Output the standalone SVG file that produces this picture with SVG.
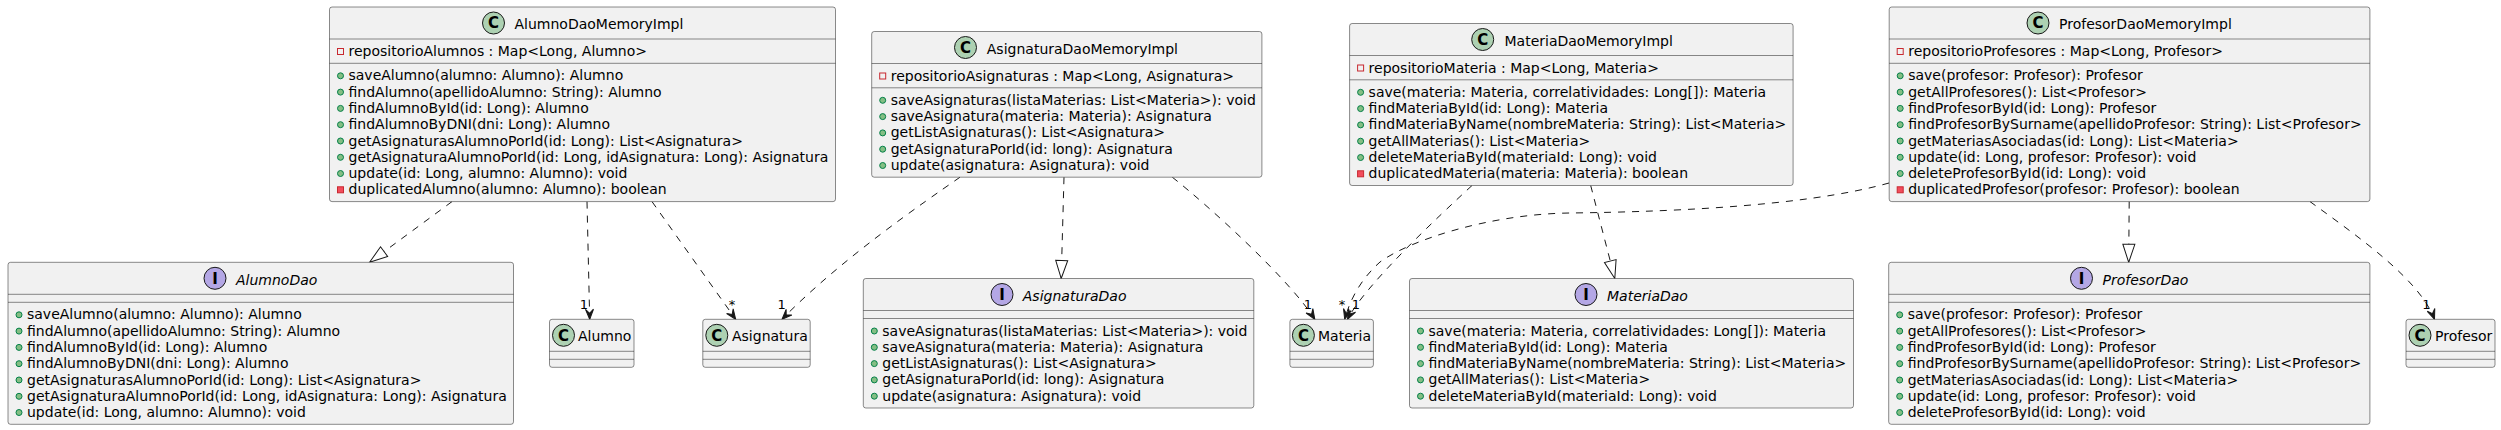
<svg xmlns="http://www.w3.org/2000/svg" width="2501" height="430" viewBox="0 0 2501 430">
<style>
.box{fill:#F1F1F1;stroke:#181818;stroke-width:0.5}
.sep{stroke:#181818;stroke-width:0.5}
.cc{fill:#ADD1B2;stroke:#181818;stroke-width:1}
.ic{fill:#B4A7E5;stroke:#181818;stroke-width:1}
.gl{font-family:"DejaVu Sans",sans-serif;font-size:15px;font-weight:bold;text-anchor:middle;fill:#000}
.t{font-family:"DejaVu Sans",sans-serif;font-size:14px;fill:#000}
.it{font-family:"DejaVu Sans",sans-serif;font-size:14px;font-style:italic;fill:#000}
.m{font-family:"DejaVu Sans",sans-serif;font-size:14px;fill:#000}
.pub{fill:#84BE84;stroke:#038048;stroke-width:1}
.pf{fill:none;stroke:#C82930;stroke-width:1}
.pm{fill:#F24D5C;stroke:#C82930;stroke-width:1}
.e{fill:none;stroke:#181818;stroke-width:1;stroke-dasharray:7,7}
.dep{marker-end:url(#dep)}
.real{marker-end:url(#real)}
.l{font-family:"DejaVu Sans",sans-serif;font-size:13px;text-anchor:middle;fill:#000}
</style>
<defs>
<marker id="dep" markerUnits="userSpaceOnUse" markerWidth="12" markerHeight="10" refX="10" refY="5" orient="auto" overflow="visible"><path d="M10,5 L0,1 L4,5 L0,9 Z" fill="#181818" stroke="#181818" stroke-width="1"/></marker>
<marker id="real" markerUnits="userSpaceOnUse" markerWidth="20" markerHeight="14" refX="18" refY="6" orient="auto" overflow="visible"><path d="M18,6 L0,0 L0,12 Z" fill="#FFFFFF" stroke="#181818" stroke-width="1"/></marker>
</defs>
<rect width="2501" height="430" fill="#FFFFFF"/>

<g id="connectors">
<path class="e real" d="M452,201.6 L369.6,262.3"/>
<path class="e dep" d="M587,201.6 L589.7,319.3"/>
<text class="l" x="584" y="309">1</text>
<path class="e dep" d="M652,201.6 L735.7,319.3"/>
<text class="l" x="732" y="309">*</text>
<path class="e dep" d="M960,177.2 C920,205 840,260 782,319.3"/>
<text class="l" x="781.6" y="309">1</text>
<path class="e real" d="M1064,177.2 L1061.2,278.5"/>
<path class="e dep" d="M1172.3,177.2 C1210,207 1290,280 1314.8,319.3"/>
<text class="l" x="1307.8" y="309">1</text>
<path class="e dep" d="M1472,185.5 C1440,215 1365,285 1347.5,319.3"/>
<text class="l" x="1356" y="309">1</text>
<path class="e dep" d="M1889,183 C1800,208 1650,212 1570,213 C1490,214 1410,240 1380,262 C1360,280 1350,300 1344.7,319.3"/>
<text class="l" x="1342" y="309">*</text>
<path class="e real" d="M1590.7,185.5 L1614.8,278.5"/>
<path class="e real" d="M2129.2,201.6 L2128.7,262.3"/>
<path class="e dep" d="M2310,201.6 C2360,238 2420,280 2434.5,319.3"/>
<text class="l" x="2426.5" y="309">1</text>
</g>

<g id="AlumnoDaoMemoryImpl">
<rect class="box" x="329.5" y="7" width="506" height="194.6" rx="2.5"/>
<circle class="cc" cx="493.5" cy="23" r="11"/><text class="gl" x="493.5" y="28.3">C</text>
<text class="t" x="514.5" y="29.4">AlumnoDaoMemoryImpl</text>
<line class="sep" x1="329.5" y1="39" x2="835.5" y2="39"/>
<rect class="pf" x="337.5" y="48.5" width="6" height="6"/>
<text class="m" x="348.5" y="56">repositorioAlumnos : Map&lt;Long, Alumno&gt;</text>
<line class="sep" x1="329.5" y1="63.3" x2="835.5" y2="63.3"/>
<circle class="pub" cx="340.5" cy="75.8" r="3"/><text class="m" x="348.5" y="80.3">saveAlumno(alumno: Alumno): Alumno</text>
<circle class="pub" cx="340.5" cy="92.1" r="3"/><text class="m" x="348.5" y="96.6">findAlumno(apellidoAlumno: String): Alumno</text>
<circle class="pub" cx="340.5" cy="108.4" r="3"/><text class="m" x="348.5" y="112.9">findAlumnoById(id: Long): Alumno</text>
<circle class="pub" cx="340.5" cy="124.7" r="3"/><text class="m" x="348.5" y="129.2">findAlumnoByDNI(dni: Long): Alumno</text>
<circle class="pub" cx="340.5" cy="141" r="3"/><text class="m" x="348.5" y="145.5">getAsignaturasAlumnoPorId(id: Long): List&lt;Asignatura&gt;</text>
<circle class="pub" cx="340.5" cy="157.3" r="3"/><text class="m" x="348.5" y="161.8">getAsignaturaAlumnoPorId(id: Long, idAsignatura: Long): Asignatura</text>
<circle class="pub" cx="340.5" cy="173.5" r="3"/><text class="m" x="348.5" y="178">update(id: Long, alumno: Alumno): void</text>
<rect class="pm" x="337.5" y="186.8" width="6" height="6"/><text class="m" x="348.5" y="194.3">duplicatedAlumno(alumno: Alumno): boolean</text>
</g>

<g id="AsignaturaDaoMemoryImpl">
<rect class="box" x="871.7" y="31.5" width="390.2" height="145.7" rx="2.5"/>
<circle class="cc" cx="965.5" cy="47.5" r="11"/><text class="gl" x="965.5" y="52.8">C</text>
<text class="t" x="986.8" y="53.9">AsignaturaDaoMemoryImpl</text>
<line class="sep" x1="871.7" y1="63.5" x2="1261.9" y2="63.5"/>
<rect class="pf" x="879.7" y="73" width="6" height="6"/>
<text class="m" x="890.7" y="80.5">repositorioAsignaturas : Map&lt;Long, Asignatura&gt;</text>
<line class="sep" x1="871.7" y1="87.8" x2="1261.9" y2="87.8"/>
<circle class="pub" cx="882.7" cy="100.3" r="3"/><text class="m" x="890.7" y="104.8">saveAsignaturas(listaMaterias: List&lt;Materia&gt;): void</text>
<circle class="pub" cx="882.7" cy="116.6" r="3"/><text class="m" x="890.7" y="121.1">saveAsignatura(materia: Materia): Asignatura</text>
<circle class="pub" cx="882.7" cy="132.9" r="3"/><text class="m" x="890.7" y="137.4">getListAsignaturas(): List&lt;Asignatura&gt;</text>
<circle class="pub" cx="882.7" cy="149.2" r="3"/><text class="m" x="890.7" y="153.7">getAsignaturaPorId(id: long): Asignatura</text>
<circle class="pub" cx="882.7" cy="165.5" r="3"/><text class="m" x="890.7" y="170">update(asignatura: Asignatura): void</text>
</g>

<g id="MateriaDaoMemoryImpl">
<rect class="box" x="1349.6" y="23.5" width="443.5" height="162" rx="2.5"/>
<circle class="cc" cx="1482.7" cy="39.5" r="11"/><text class="gl" x="1482.7" y="44.8">C</text>
<text class="t" x="1504.5" y="45.9">MateriaDaoMemoryImpl</text>
<line class="sep" x1="1349.6" y1="55.5" x2="1793.1" y2="55.5"/>
<rect class="pf" x="1357.6" y="65" width="6" height="6"/>
<text class="m" x="1368.6" y="72.5">repositorioMateria : Map&lt;Long, Materia&gt;</text>
<line class="sep" x1="1349.6" y1="79.8" x2="1793.1" y2="79.8"/>
<circle class="pub" cx="1360.6" cy="92.3" r="3"/><text class="m" x="1368.6" y="96.8">save(materia: Materia, correlatividades: Long[]): Materia</text>
<circle class="pub" cx="1360.6" cy="108.6" r="3"/><text class="m" x="1368.6" y="113.1">findMateriaById(id: Long): Materia</text>
<circle class="pub" cx="1360.6" cy="124.9" r="3"/><text class="m" x="1368.6" y="129.4">findMateriaByName(nombreMateria: String): List&lt;Materia&gt;</text>
<circle class="pub" cx="1360.6" cy="141.2" r="3"/><text class="m" x="1368.6" y="145.7">getAllMaterias(): List&lt;Materia&gt;</text>
<circle class="pub" cx="1360.6" cy="157.5" r="3"/><text class="m" x="1368.6" y="162">deleteMateriaById(materiaId: Long): void</text>
<rect class="pm" x="1357.6" y="170.8" width="6" height="6"/><text class="m" x="1368.6" y="178.3">duplicatedMateria(materia: Materia): boolean</text>
</g>

<g id="ProfesorDaoMemoryImpl">
<rect class="box" x="1889.2" y="7" width="480.7" height="194.6" rx="2.5"/>
<circle class="cc" cx="2038" cy="23" r="11"/><text class="gl" x="2038" y="28.3">C</text>
<text class="t" x="2059" y="29.4">ProfesorDaoMemoryImpl</text>
<line class="sep" x1="1889.2" y1="39" x2="2369.9" y2="39"/>
<rect class="pf" x="1897.2" y="48.5" width="6" height="6"/>
<text class="m" x="1908.2" y="56">repositorioProfesores : Map&lt;Long, Profesor&gt;</text>
<line class="sep" x1="1889.2" y1="63.3" x2="2369.9" y2="63.3"/>
<circle class="pub" cx="1900.2" cy="75.8" r="3"/><text class="m" x="1908.2" y="80.3">save(profesor: Profesor): Profesor</text>
<circle class="pub" cx="1900.2" cy="92.1" r="3"/><text class="m" x="1908.2" y="96.6">getAllProfesores(): List&lt;Profesor&gt;</text>
<circle class="pub" cx="1900.2" cy="108.4" r="3"/><text class="m" x="1908.2" y="112.9">findProfesorById(id: Long): Profesor</text>
<circle class="pub" cx="1900.2" cy="124.7" r="3"/><text class="m" x="1908.2" y="129.2">findProfesorBySurname(apellidoProfesor: String): List&lt;Profesor&gt;</text>
<circle class="pub" cx="1900.2" cy="141" r="3"/><text class="m" x="1908.2" y="145.5">getMateriasAsociadas(id: Long): List&lt;Materia&gt;</text>
<circle class="pub" cx="1900.2" cy="157.3" r="3"/><text class="m" x="1908.2" y="161.8">update(id: Long, profesor: Profesor): void</text>
<circle class="pub" cx="1900.2" cy="173.5" r="3"/><text class="m" x="1908.2" y="178">deleteProfesorById(id: Long): void</text>
<rect class="pm" x="1897.2" y="186.8" width="6" height="6"/><text class="m" x="1908.2" y="194.3">duplicatedProfesor(profesor: Profesor): boolean</text>
</g>

<g id="AlumnoDao">
<rect class="box" x="8" y="262.3" width="505.5" height="162" rx="2.5"/>
<circle class="ic" cx="215" cy="278.3" r="11"/><text class="gl" x="215" y="283.6">I</text>
<text class="it" x="236" y="284.7">AlumnoDao</text>
<line class="sep" x1="8" y1="294.3" x2="513.5" y2="294.3"/>
<line class="sep" x1="8" y1="302.3" x2="513.5" y2="302.3"/>
<circle class="pub" cx="19" cy="314.8" r="3"/><text class="m" x="27" y="319.3">saveAlumno(alumno: Alumno): Alumno</text>
<circle class="pub" cx="19" cy="331.1" r="3"/><text class="m" x="27" y="335.6">findAlumno(apellidoAlumno: String): Alumno</text>
<circle class="pub" cx="19" cy="347.4" r="3"/><text class="m" x="27" y="351.9">findAlumnoById(id: Long): Alumno</text>
<circle class="pub" cx="19" cy="363.7" r="3"/><text class="m" x="27" y="368.2">findAlumnoByDNI(dni: Long): Alumno</text>
<circle class="pub" cx="19" cy="380" r="3"/><text class="m" x="27" y="384.5">getAsignaturasAlumnoPorId(id: Long): List&lt;Asignatura&gt;</text>
<circle class="pub" cx="19" cy="396.3" r="3"/><text class="m" x="27" y="400.8">getAsignaturaAlumnoPorId(id: Long, idAsignatura: Long): Asignatura</text>
<circle class="pub" cx="19" cy="412.5" r="3"/><text class="m" x="27" y="417">update(id: Long, alumno: Alumno): void</text>
</g>

<g id="Alumno">
<rect class="box" x="549.5" y="319.3" width="84.5" height="48" rx="2.5"/>
<circle class="cc" cx="563.5" cy="335.3" r="11"/><text class="gl" x="563.5" y="340.6">C</text>
<text class="t" x="578" y="340.8">Alumno</text>
<line class="sep" x1="549.5" y1="351.3" x2="634" y2="351.3"/>
<line class="sep" x1="549.5" y1="359.3" x2="634" y2="359.3"/>
</g>

<g id="Asignatura">
<rect class="box" x="702.8" y="319.3" width="107.4" height="48" rx="2.5"/>
<circle class="cc" cx="716.8" cy="335.3" r="11"/><text class="gl" x="716.8" y="340.6">C</text>
<text class="t" x="732" y="340.8">Asignatura</text>
<line class="sep" x1="702.8" y1="351.3" x2="810.2" y2="351.3"/>
<line class="sep" x1="702.8" y1="359.3" x2="810.2" y2="359.3"/>
</g>

<g id="AsignaturaDao">
<rect class="box" x="863.3" y="278.5" width="390.5" height="129.5" rx="2.5"/>
<circle class="ic" cx="1002" cy="294.5" r="11"/><text class="gl" x="1002" y="299.8">I</text>
<text class="it" x="1022.8" y="300.9">AsignaturaDao</text>
<line class="sep" x1="863.3" y1="310.5" x2="1253.8" y2="310.5"/>
<line class="sep" x1="863.3" y1="318.5" x2="1253.8" y2="318.5"/>
<circle class="pub" cx="874.3" cy="331" r="3"/><text class="m" x="882.3" y="335.5">saveAsignaturas(listaMaterias: List&lt;Materia&gt;): void</text>
<circle class="pub" cx="874.3" cy="347.3" r="3"/><text class="m" x="882.3" y="351.8">saveAsignatura(materia: Materia): Asignatura</text>
<circle class="pub" cx="874.3" cy="363.6" r="3"/><text class="m" x="882.3" y="368.1">getListAsignaturas(): List&lt;Asignatura&gt;</text>
<circle class="pub" cx="874.3" cy="379.9" r="3"/><text class="m" x="882.3" y="384.4">getAsignaturaPorId(id: long): Asignatura</text>
<circle class="pub" cx="874.3" cy="396.2" r="3"/><text class="m" x="882.3" y="400.7">update(asignatura: Asignatura): void</text>
</g>

<g id="Materia">
<rect class="box" x="1289.9" y="319.3" width="83.5" height="48" rx="2.5"/>
<circle class="cc" cx="1303.4" cy="335.3" r="11"/><text class="gl" x="1303.4" y="340.6">C</text>
<text class="t" x="1318" y="340.8">Materia</text>
<line class="sep" x1="1289.9" y1="351.3" x2="1373.4" y2="351.3"/>
<line class="sep" x1="1289.9" y1="359.3" x2="1373.4" y2="359.3"/>
</g>

<g id="MateriaDao">
<rect class="box" x="1409.5" y="278.5" width="444" height="129.5" rx="2.5"/>
<circle class="ic" cx="1586" cy="294.5" r="11"/><text class="gl" x="1586" y="299.8">I</text>
<text class="it" x="1607" y="300.9">MateriaDao</text>
<line class="sep" x1="1409.5" y1="310.5" x2="1853.5" y2="310.5"/>
<line class="sep" x1="1409.5" y1="318.5" x2="1853.5" y2="318.5"/>
<circle class="pub" cx="1420.5" cy="331" r="3"/><text class="m" x="1428.5" y="335.5">save(materia: Materia, correlatividades: Long[]): Materia</text>
<circle class="pub" cx="1420.5" cy="347.3" r="3"/><text class="m" x="1428.5" y="351.8">findMateriaById(id: Long): Materia</text>
<circle class="pub" cx="1420.5" cy="363.6" r="3"/><text class="m" x="1428.5" y="368.1">findMateriaByName(nombreMateria: String): List&lt;Materia&gt;</text>
<circle class="pub" cx="1420.5" cy="379.9" r="3"/><text class="m" x="1428.5" y="384.4">getAllMaterias(): List&lt;Materia&gt;</text>
<circle class="pub" cx="1420.5" cy="396.2" r="3"/><text class="m" x="1428.5" y="400.7">deleteMateriaById(materiaId: Long): void</text>
</g>

<g id="ProfesorDao">
<rect class="box" x="1888.7" y="262.3" width="481.2" height="162" rx="2.5"/>
<circle class="ic" cx="2081.5" cy="278.3" r="11"/><text class="gl" x="2081.5" y="283.6">I</text>
<text class="it" x="2102.5" y="284.7">ProfesorDao</text>
<line class="sep" x1="1888.7" y1="294.3" x2="2369.9" y2="294.3"/>
<line class="sep" x1="1888.7" y1="302.3" x2="2369.9" y2="302.3"/>
<circle class="pub" cx="1899.7" cy="314.8" r="3"/><text class="m" x="1907.7" y="319.3">save(profesor: Profesor): Profesor</text>
<circle class="pub" cx="1899.7" cy="331.1" r="3"/><text class="m" x="1907.7" y="335.6">getAllProfesores(): List&lt;Profesor&gt;</text>
<circle class="pub" cx="1899.7" cy="347.4" r="3"/><text class="m" x="1907.7" y="351.9">findProfesorById(id: Long): Profesor</text>
<circle class="pub" cx="1899.7" cy="363.7" r="3"/><text class="m" x="1907.7" y="368.2">findProfesorBySurname(apellidoProfesor: String): List&lt;Profesor&gt;</text>
<circle class="pub" cx="1899.7" cy="380" r="3"/><text class="m" x="1907.7" y="384.5">getMateriasAsociadas(id: Long): List&lt;Materia&gt;</text>
<circle class="pub" cx="1899.7" cy="396.3" r="3"/><text class="m" x="1907.7" y="400.8">update(id: Long, profesor: Profesor): void</text>
<circle class="pub" cx="1899.7" cy="412.5" r="3"/><text class="m" x="1907.7" y="417">deleteProfesorById(id: Long): void</text>
</g>

<g id="Profesor">
<rect class="box" x="2406" y="319.3" width="89" height="48" rx="2.5"/>
<circle class="cc" cx="2420" cy="335.3" r="11"/><text class="gl" x="2420" y="340.6">C</text>
<text class="t" x="2435" y="340.8">Profesor</text>
<line class="sep" x1="2406" y1="351.3" x2="2495" y2="351.3"/>
<line class="sep" x1="2406" y1="359.3" x2="2495" y2="359.3"/>
</g>
</svg>
